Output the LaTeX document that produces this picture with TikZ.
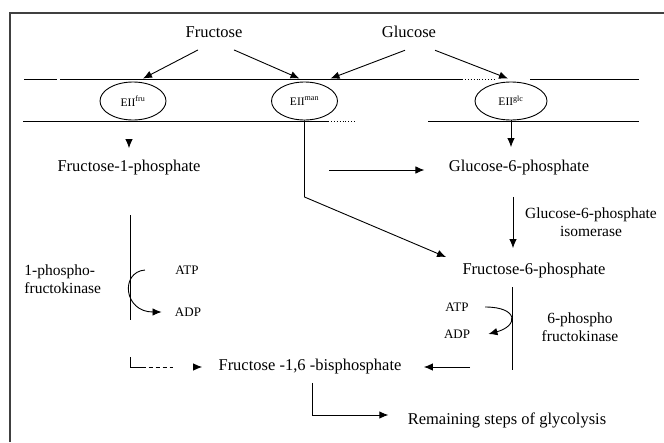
\documentclass[tikz,border=0pt]{standalone}
\usepackage{fontspec}
\setmainfont{Liberation Serif}
\usetikzlibrary{arrows.meta,shapes.geometric}

\begin{document}
\begin{tikzpicture}[x=1pt,y=-1pt,>={Latex[length=9pt,width=7.5pt]},
  line width=0.9pt]
  \tikzstyle{sugar}=[font=\fontsize{16.5}{19}\selectfont,inner sep=2pt]
  \tikzstyle{cofactor}=[font=\fontsize{13}{15}\selectfont,inner sep=2pt]
  \tikzstyle{enzyme}=[font=\fontsize{15.5}{18}\selectfont,align=center,inner sep=2pt]
  \tikzstyle{pts}=[draw,ellipse,minimum width=66pt,minimum height=38pt,inner sep=0pt,
    font=\fontsize{11.5}{13}\selectfont]

  \useasboundingbox (0,0) rectangle (664,442);
  \draw[line width=1.4pt,black!75] (10,442) |- (664,13);

  \node[sugar]                      (fru)    at (214,32)  {Fructose};
  \node[sugar]                      (glc)    at (409,32)  {Glucose};
  \node[pts]                        (eiifru) at (133,101) {EII\textsuperscript{fru}};
  \node[pts]                        (eiiman) at (304.5,101) {EII\textsuperscript{man}};
  \node[pts,minimum width=72pt]     (eiiglc) at (511,101) {EII\textsuperscript{glc}};
  \node[sugar]                      (f1p)    at (129,168) {Fructose-1-phosphate};
  \node[sugar]                      (g6p)    at (519,168) {Glucose-6-phosphate};
  \node[enzyme]                     (gpi)    at (591,222) {Glucose-6-phosphate\\isomerase};
  \node[sugar]                      (f6p)    at (534,271) {Fructose-6-phosphate};
  \node[enzyme,align=left,anchor=west] (pfk1) at (22,279) {1-phospho-\\fructokinase};
  \node[enzyme]                     (pfk6)   at (580,327) {6-phospho\\fructokinase};
  \node[cofactor]                   (atp1)   at (187,270) {ATP};
  \node[cofactor]                   (adp1)   at (188,312) {ADP};
  \node[cofactor]                   (atp6)   at (457,307) {ATP};
  \node[cofactor]                   (adp6)   at (457,334) {ADP};
  \node[sugar]                      (f16bp)  at (310,367) {Fructose -1,6 -bisphosphate};
  \node[sugar]                      (rest)   at (507,420) {Remaining steps of glycolysis};

  \coordinate (kink)  at (304.5,197);
  \coordinate (shunt) at (329,170);
  \coordinate (p1top) at (130.5,215);
  \coordinate (p1bot) at (130.5,320);
  \coordinate (p1end) at (130.5,357);
  \coordinate (p6top) at (512.5,287);
  \coordinate (p6bot) at (512.5,370);
  \coordinate (p6end) at (470,367);

  % membrane
  \draw (24,79.5) -- (57,79.5) (60,79.5) -- (462,79.5) (530,79.5) -- (639,79.5);
  \draw[dotted] (462,79.5) -- (494,79.5);
  \draw (23,121.5) -- (328,121.5) (428,121.5) -- (639,121.5);
  \draw[dotted] (328,121.5) -- (355,121.5);

  \draw[->] ([shift={(-16pt,-10pt)}]fru.south) -- ([shift={(10pt,3pt)}]eiifru.north);
  \draw[->] ([shift={(20pt,-10pt)}]fru.south) -- ([shift={(-5pt,3pt)}]eiiman.north);
  \draw[->] ([shift={(-4pt,-10pt)}]glc.south) -- ([shift={(26pt,3pt)}]eiiman.north);
  \draw[->] ([shift={(26pt,-10pt)}]glc.south) -- ([shift={(-3pt,3pt)}]eiiglc.north);

  \draw[->] ([yshift=19pt]f1p.north) -- ([yshift=10pt]f1p.north);
  \draw[->,shorten >=11pt] (eiiglc.south) -- (eiiglc.south |- g6p.north);
  \draw[->,shorten >=22pt] (shunt) -- (shunt -| g6p.west);
  \draw[->] (eiiman.south) -- (kink) -- ([shift={(-14pt,4pt)}]f6p.north west);
  \draw[->,shorten <=19pt,shorten >=13pt] ([xshift=-6pt]g6p.south) -- ([xshift=-6pt]g6p.south |- f6p.north);

  \draw (p6top) -- (p6bot);
  \draw[->] ([xshift=14pt]atp6.east) .. controls +(34,0) and +(30,-8) .. ([xshift=16pt]adp6.east);
  \draw (p1top) -- (p1bot);
  \draw[->] ([xshift=-28pt]atp1.west) .. controls +(-25,2) and +(-38,0) .. ([xshift=-11pt]adp1.west);

  \draw[->,shorten >=14pt,dash pattern=on 25pt off 3pt on 4pt off 3pt on 4pt off 3pt on 4pt off 3pt on 3pt off 40pt]
    (p1end) |- (f16bp.west);
  \draw[->,shorten >=20pt] (p6end) -- (f16bp.east);
  \draw[->,shorten <=6pt,shorten >=17pt] ([xshift=2pt]f16bp.south) |- ([yshift=5pt]rest.west);
\end{tikzpicture}
\end{document}
